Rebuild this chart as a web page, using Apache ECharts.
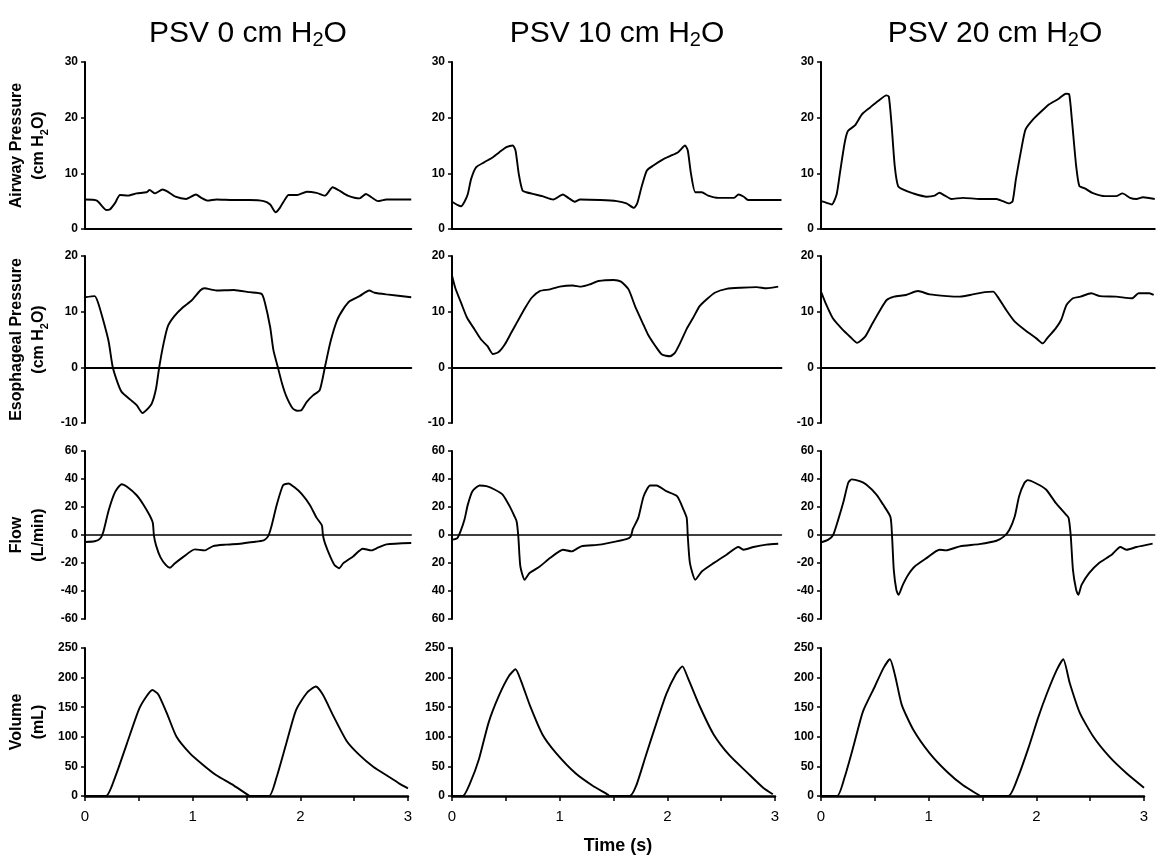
<!DOCTYPE html>
<html><head><meta charset="utf-8">
<script src="https://cdn.jsdelivr.net/npm/echarts@6/dist/echarts.min.js"></script>
<style>html,body{margin:0;padding:0;background:#fff}#c{width:1159px;height:858px}</style>
</head><body><div id="c"></div><script>
// ---------- text ----------
const columnTitles = ['PSV 0 cm H', 'PSV 10 cm H', 'PSV 20 cm H'];
const rowNameLine1 = ['Airway Pressure', 'Esophageal Pressure', 'Flow', 'Volume'];
const rowNameLine2 = ['(cm H{s|2}O)', '(cm H{s|2}O)', '(L/min)', '(mL)'];
const xAxisTitle = 'Time (s)';
// ---------- tick labels ----------
const timeTicks = [0, 1, 2, 3];
const airwayTicks = [0, 10, 20, 30];
const esophTicks = [-10, 0, 10, 20];
const flowTicks = [-60, -40, -20, 0, 20, 40, 60];
const volumeTicks = [0, 50, 100, 150, 200, 250];
// ---------- series [time s, value] ----------
const psv0Airway = [[0,5.3],[0.11,5.1],[0.2,3.4],[0.23,3.5],[0.28,4.7],[0.325,6.1],[0.4,6.0],[0.48,6.4],[0.57,6.6],[0.6,7.0],[0.65,6.4],[0.72,7.1],[0.76,6.8],[0.84,5.8],[0.94,5.4],[1.03,6.2],[1.08,5.6],[1.14,5.1],[1.22,5.3],[1.38,5.2],[1.53,5.2],[1.66,5.0],[1.72,4.4],[1.77,3.0],[1.81,3.8],[1.86,5.4],[1.89,6.1],[1.97,6.1],[2.06,6.7],[2.15,6.5],[2.23,6.0],[2.3,7.5],[2.37,6.8],[2.44,6.0],[2.55,5.5],[2.61,6.3],[2.66,5.7],[2.72,5.0],[2.8,5.3],[3.03,5.3]];
const psv0Esoph = [[0,12.6],[0.09,12.8],[0.12,11.7],[0.17,8.4],[0.22,4.6],[0.257,0.1],[0.3,-2.6],[0.34,-4.4],[0.42,-5.8],[0.48,-6.8],[0.535,-8.2],[0.57,-7.7],[0.62,-6.5],[0.66,-3.8],[0.69,0.1],[0.73,4.3],[0.77,7.4],[0.83,9.2],[0.91,10.8],[0.99,12.0],[1.07,13.8],[1.11,14.2],[1.22,13.8],[1.38,13.9],[1.53,13.5],[1.64,13.2],[1.67,11.7],[1.72,7.2],[1.75,3.1],[1.79,0.1],[1.83,-2.9],[1.87,-5.2],[1.93,-7.4],[1.97,-7.8],[2.01,-7.7],[2.06,-6.2],[2.12,-5.0],[2.18,-4.1],[2.23,0.2],[2.28,4.6],[2.34,8.4],[2.4,10.5],[2.46,11.9],[2.55,12.8],[2.64,13.8],[2.69,13.4],[2.8,13.1],[3.03,12.6]];
const psv0Flow = [[0,-5.0],[0.09,-4.5],[0.14,-2.6],[0.17,2.2],[0.22,17.7],[0.28,30.8],[0.34,36.3],[0.39,34.4],[0.48,28.4],[0.54,22.0],[0.6,14.1],[0.63,8.6],[0.64,-0.2],[0.66,-7.4],[0.7,-15.8],[0.75,-21.3],[0.79,-23.4],[0.83,-20.6],[0.91,-15.8],[1.02,-10.3],[1.11,-11.0],[1.19,-7.9],[1.31,-6.9],[1.44,-6.2],[1.56,-5.0],[1.66,-3.8],[1.7,-1.0],[1.73,5.7],[1.78,21.3],[1.84,35.6],[1.89,36.8],[1.94,34.4],[2.01,29.6],[2.09,21.3],[2.15,12.4],[2.2,6.9],[2.21,-0.2],[2.23,-6.2],[2.28,-15.8],[2.32,-21.7],[2.36,-23.7],[2.4,-20.1],[2.49,-15.3],[2.58,-9.8],[2.66,-11.0],[2.72,-9.1],[2.8,-6.7],[3.03,-5.7]];
const psv0Volume = [[0,0],[0.195,0],[0.28,32],[0.39,89],[0.5,146],[0.57,168],[0.625,179],[0.68,172],[0.76,140],[0.85,100],[0.975,72],[1.1,52],[1.22,35],[1.38,18],[1.52,1],[1.53,0],[1.71,0],[1.78,32],[1.87,89],[1.96,145],[2.06,174],[2.145,185],[2.21,171],[2.31,134],[2.43,93],[2.55,69],[2.68,49],[2.8,35],[2.92,21],[3.0,13]];
const psv10Airway = [[0,4.9],[0.054,4.3],[0.085,4.1],[0.116,4.9],[0.147,6.3],[0.178,9.0],[0.225,11.1],[0.3,12.0],[0.38,12.9],[0.44,13.8],[0.505,14.7],[0.565,15.0],[0.59,14.1],[0.62,9.9],[0.655,6.9],[0.69,6.6],[0.75,6.3],[0.84,5.9],[0.94,5.3],[1.03,6.2],[1.08,5.6],[1.14,4.9],[1.19,5.3],[1.38,5.2],[1.53,5.0],[1.62,4.6],[1.69,3.8],[1.72,4.6],[1.76,7.5],[1.81,10.5],[1.87,11.4],[1.96,12.5],[2.025,13.1],[2.1,13.8],[2.165,15.0],[2.19,14.1],[2.22,9.9],[2.26,6.6],[2.32,6.6],[2.38,6.0],[2.475,5.6],[2.62,5.6],[2.66,6.2],[2.71,5.8],[2.75,5.2],[3.06,5.2]];
const psv10Esoph = [[0,16.5],[0.03,14.3],[0.09,11.3],[0.14,8.9],[0.21,6.8],[0.27,5.0],[0.33,3.8],[0.38,2.4],[0.43,2.7],[0.49,4.1],[0.55,6.2],[0.61,8.3],[0.68,10.7],[0.74,12.5],[0.815,13.7],[0.91,14.0],[1.0,14.5],[1.12,14.7],[1.2,14.5],[1.28,14.9],[1.36,15.5],[1.5,15.7],[1.57,15.4],[1.64,14.0],[1.7,11.0],[1.77,8.0],[1.82,5.9],[1.89,3.8],[1.95,2.3],[2.025,2.0],[2.07,2.6],[2.12,4.4],[2.18,6.9],[2.24,8.9],[2.3,11.0],[2.37,12.3],[2.44,13.4],[2.55,14.1],[2.68,14.3],[2.83,14.4],[2.92,14.2],[3.03,14.5]];
const psv10Flow = [[0,-3.3],[0.05,-2.2],[0.085,3.8],[0.116,11.0],[0.147,21.7],[0.19,31.3],[0.256,35.4],[0.32,34.9],[0.395,32.5],[0.47,28.9],[0.535,20.6],[0.58,13.4],[0.6,9.8],[0.616,-1.0],[0.635,-22.5],[0.675,-32.0],[0.72,-27.2],[0.815,-22.5],[0.91,-16.5],[1.03,-10.5],[1.11,-11.7],[1.2,-8.1],[1.37,-6.9],[1.53,-4.5],[1.62,-2.9],[1.66,-1.0],[1.68,4.3],[1.73,12.2],[1.78,27.7],[1.84,35.4],[1.9,35.4],[1.99,31.3],[2.09,27.7],[2.15,18.2],[2.18,12.2],[2.19,-1.0],[2.21,-20.1],[2.26,-32.0],[2.32,-26.1],[2.43,-20.1],[2.55,-14.1],[2.66,-8.6],[2.71,-10.5],[2.8,-8.6],[2.92,-6.9],[3.03,-6.2]];
const psv10Volume = [[0,0],[0.1,0],[0.17,22.6],[0.25,62],[0.34,124],[0.435,169],[0.53,203],[0.59,214],[0.64,195],[0.73,150],[0.84,104],[0.965,73],[1.15,38],[1.31,17],[1.45,2],[1.46,0],[1.65,0],[1.71,17],[1.8,68],[1.9,124],[1.99,172],[2.08,206],[2.14,219],[2.19,200],[2.3,152],[2.43,104],[2.58,68],[2.74,40],[2.89,14],[2.98,3]];
const psv20Airway = [[0,5.0],[0.053,4.7],[0.1,4.4],[0.145,6.2],[0.176,10.1],[0.22,15.5],[0.25,17.6],[0.315,18.6],[0.38,20.6],[0.454,21.8],[0.53,23.0],[0.608,24.0],[0.63,23.8],[0.654,19.1],[0.685,11.3],[0.716,7.7],[0.76,7.1],[0.855,6.4],[0.98,5.8],[1.056,6.0],[1.1,6.5],[1.15,6.0],[1.21,5.4],[1.32,5.6],[1.47,5.4],[1.63,5.4],[1.69,5.0],[1.75,4.6],[1.78,5.0],[1.81,8.9],[1.86,14.3],[1.9,17.9],[1.97,19.7],[2.05,21.2],[2.12,22.4],[2.2,23.3],[2.275,24.3],[2.305,24.2],[2.33,19.7],[2.37,11.3],[2.4,7.7],[2.45,7.3],[2.52,6.5],[2.64,5.9],[2.74,5.9],[2.8,6.4],[2.87,5.6],[2.93,5.4],[2.99,5.7],[3.1,5.4]];
const psv20Esoph = [[0,13.6],[0.05,11.2],[0.11,8.8],[0.19,7.0],[0.27,5.5],[0.336,4.4],[0.41,5.5],[0.47,7.6],[0.55,10.3],[0.61,12.1],[0.68,12.7],[0.79,13.0],[0.9,13.7],[1.01,13.1],[1.17,12.8],[1.29,12.7],[1.41,13.1],[1.52,13.5],[1.6,13.6],[1.64,12.7],[1.72,10.3],[1.8,8.2],[1.9,6.6],[2.0,5.2],[2.06,4.3],[2.1,5.2],[2.18,7.0],[2.23,8.5],[2.28,11.2],[2.34,12.4],[2.41,12.7],[2.51,13.3],[2.59,12.8],[2.74,12.7],[2.89,12.4],[2.95,13.3],[3.05,13.3],[3.09,13.0]];
const psv20Flow = [[0,-5.3],[0.068,-3.3],[0.114,0.2],[0.16,11.0],[0.21,24.1],[0.253,37.3],[0.284,39.7],[0.36,38.5],[0.42,36.1],[0.515,28.9],[0.577,21.7],[0.645,12.9],[0.66,-1.0],[0.676,-24.9],[0.7,-39.2],[0.72,-42.8],[0.76,-35.6],[0.81,-28.4],[0.87,-22.5],[0.98,-16.5],[1.1,-10.5],[1.16,-11.0],[1.29,-8.1],[1.47,-6.5],[1.63,-4.1],[1.7,-1.0],[1.75,3.8],[1.8,13.4],[1.84,27.7],[1.89,37.3],[1.92,39.2],[2.0,36.8],[2.09,32.5],[2.18,22.9],[2.275,14.6],[2.3,12.2],[2.32,-1.0],[2.34,-24.9],[2.37,-39.2],[2.39,-42.8],[2.42,-35.6],[2.49,-27.2],[2.58,-20.1],[2.7,-14.1],[2.78,-8.6],[2.84,-10.5],[2.93,-8.6],[3.08,-6.2]];
const psv20Volume = [[0,0],[0.15,0],[0.22,32],[0.3,83],[0.39,143],[0.5,185],[0.58,216],[0.64,231],[0.69,202],[0.75,154],[0.86,111],[1.01,72],[1.17,41],[1.32,18],[1.47,1],[1.48,0],[1.74,0],[1.83,32],[1.93,83],[2.02,134],[2.1,174],[2.19,213],[2.25,231],[2.31,191],[2.405,140],[2.53,100],[2.68,66],[2.84,38],[3.0,14]];

const seriesGrid = [
  [psv0Airway, psv0Esoph, psv0Flow, psv0Volume],
  [psv10Airway, psv10Esoph, psv10Flow, psv10Volume],
  [psv20Airway, psv20Esoph, psv20Flow, psv20Volume]
];
const rowTicks = [airwayTicks, esophTicks, flowTicks, volumeTicks];

// ---------- layout ----------
const FONT = '"Liberation Sans", Arial, sans-serif';
const colLeft = [85, 452, 821];
const colWidth = [323, 323, 323];
const upperMax = [3.03, 3.06, 3.1];
const rowTop = [62, 256, 451, 648];
const rowHeight = [167, 167, 168, 148];
const titleX = [248, 617, 995];

const grids = [], xAxes = [], yAxes = [], series = [];
for (let c = 0; c < 3; c++) {
  for (let r = 0; r < 4; r++) {
    const idx = grids.length;
    const isBottom = r === 3;
    const xMax = isBottom ? timeTicks[timeTicks.length - 1] : upperMax[c];
    grids.push({
      left: colLeft[c], top: rowTop[r], height: rowHeight[r],
      width: colWidth[c] * xMax / 3, containLabel: false
    });
    xAxes.push({
      type: 'value', gridIndex: idx, min: timeTicks[0], max: xMax,
      interval: 0.5,
      splitLine: { show: false },
      axisLine: { onZero: true, lineStyle: { color: '#000', width: isBottom ? 2.5 : (r === 2 ? 1.5 : 2) } },
      axisTick: { show: isBottom, length: 5, lineStyle: { color: '#000', width: 1.5 } },
      axisLabel: {
        show: isBottom, fontSize: 15, color: '#000', fontFamily: FONT, margin: 13,
        formatter: v => (Number.isInteger(v) && timeTicks.includes(v)) ? String(v) : ''
      }
    });
    const ticks = rowTicks[r];
    const y = {
      type: 'value', gridIndex: idx,
      min: ticks[0], max: ticks[ticks.length - 1], interval: ticks[1] - ticks[0],
      splitLine: { show: false },
      axisLine: { show: true, onZero: true, lineStyle: { color: '#000', width: 2 } },
      axisTick: { show: true, length: 4, lineStyle: { color: '#000', width: 1.5 } },
      axisLabel: {
        fontSize: 12, fontWeight: 'bold', color: '#000', fontFamily: FONT, margin: 7,
        formatter: (c === 1 && r === 2) ? (v => String(Math.abs(v))) : (v => String(v))
      }
    };
    if (c === 0) {
      y.name = '{b|' + rowNameLine1[r] + '}\n{b|' + rowNameLine2[r].replace('{s|2}', '}{s|2}{b|') + '}';
      y.nameLocation = 'middle';
      y.nameRotate = 90;
      y.nameGap = 35;
      y.nameTextStyle = {
        rich: {
          b: { fontSize: 16, fontWeight: 'bold', color: '#000', fontFamily: FONT, lineHeight: 22 },
          s: { fontSize: 11, fontWeight: 'bold', color: '#000', fontFamily: FONT, lineHeight: 8, verticalAlign: 'bottom' }
        }
      };
    }
    yAxes.push(y);
    series.push({
      type: 'line', xAxisIndex: idx, yAxisIndex: idx,
      data: seriesGrid[c][r], symbol: 'none',
      smooth: 0.2,
      lineStyle: { color: '#000', width: 1.9 },
      silent: true
    });
  }
}

const graphics = columnTitles.map((t, c) => ({
  type: 'text', x: titleX[c], y: 34, silent: true,
  style: {
    text: '{n|' + t + '}{s|2}{n|O}',
    align: 'center', verticalAlign: 'middle', textAlign: 'center', textVerticalAlign: 'middle',
    rich: {
      n: { fontSize: 30, fontFamily: FONT, fill: '#000', color: '#000', lineHeight: 32 },
      s: { fontSize: 20, fontFamily: FONT, fill: '#000', color: '#000', lineHeight: 12, verticalAlign: 'bottom' }
    }
  }
}));
graphics.push({
  type: 'text', x: 618, y: 846, silent: true,
  style: {
    text: xAxisTitle, fontSize: 18, fontWeight: 'bold', fontFamily: FONT, fill: '#000',
    align: 'center', verticalAlign: 'middle', textAlign: 'center', textVerticalAlign: 'middle'
  }
});

const chart = echarts.init(document.getElementById('c'), null, { renderer: 'canvas' });
chart.setOption({
  animation: false,
  backgroundColor: '#fff',
  grid: grids, xAxis: xAxes, yAxis: yAxes, series: series,
  graphic: graphics
});
</script></body></html>
